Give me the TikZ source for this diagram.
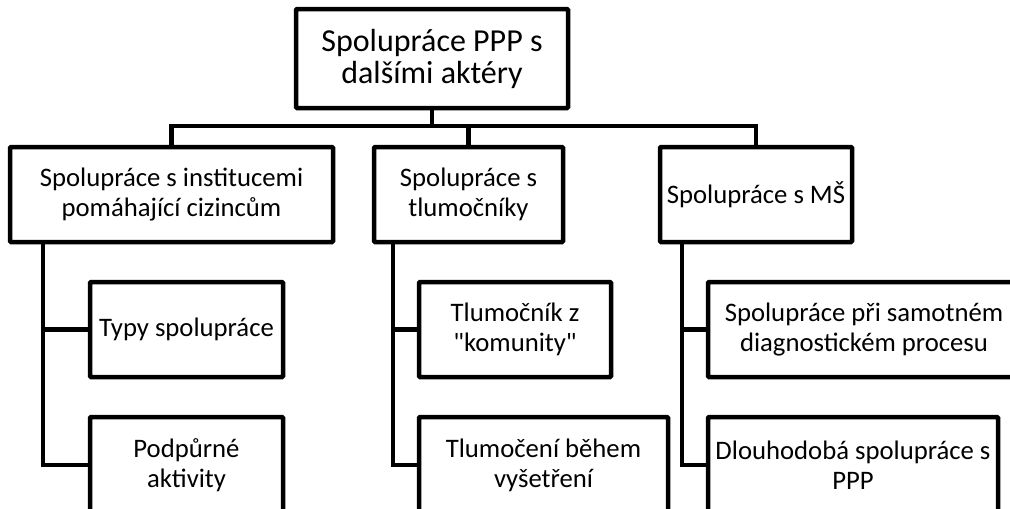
\documentclass[tikz,border=0pt]{standalone}
\usepackage{fontspec}
\setmainfont{Carlito}[Ligatures=TeXOff]
\begin{document}
\begin{tikzpicture}[x=1pt,y=-1pt,
  box/.style={draw=black,line width=4.5pt,fill=white,rounded corners=1pt,align=center,inner sep=0pt,anchor=center},
  lvl/.style={box,font=\fontsize{26.7}{30}\selectfont},
  conn/.style={draw=black,line width=4.5pt}]
\useasboundingbox (0,0) rectangle (1010,509);
\clip (0,0) rectangle (1010,509);
% root
\node[box,font=\fontsize{32}{32}\selectfont,minimum width=272pt,minimum height=99pt] (root) at (432,58.5) {Spolupráce PPP s\\dalšími aktéry};
% level 1
\node[lvl,minimum width=323pt,minimum height=95pt] (c1) at (171.5,194.5) {Spolupráce s institucemi\\pomáhající cizincům};
\node[lvl,minimum width=189pt,minimum height=95pt] (c2) at (468.5,194.5) {Spolupráce s\\tlumočníky};
\node[lvl,minimum width=192pt,minimum height=95pt] (c3) at (756,194.5) {Spolupráce s MŠ};
% level 2
\node[lvl,minimum width=193pt,minimum height=95pt] (g11) at (186.5,329.5) {Typy spolupráce};
\node[lvl,minimum width=193pt,minimum height=96pt] (g12) at (186.5,465) {Podpůrné\\aktivity};
\node[lvl,minimum width=192pt,minimum height=95pt] (g21) at (515,329.5) {Tlumočník z\\"komunity"};
\node[lvl,minimum width=249pt,minimum height=96pt] (g22) at (543.5,465) {Tlumočení během\\vyšetření};
\node[lvl,minimum width=312pt,minimum height=95pt] (g31) at (864,329.5) {Spolupráce při samotném\\diagnostickém procesu};
\node[lvl,minimum width=290pt,minimum height=96pt] (g32) at (853,465) {Dlouhodobá spolupráce s\\PPP};
% connectors
\coordinate (jn) at (432,126);
\draw[conn] (root.south) -- (jn);
\draw[conn] (c1.north) |- (jn) -| (c3.north);
\draw[conn] (c2.north) -- (c2.north |- jn);
\coordinate (s1) at (43,242);
\coordinate (s2) at (393,242);
\coordinate (s3) at (682,242);
\draw[conn] (g11.west) -| (s1);
\draw[conn] (s1) |- (g12.west);
\draw[conn] (g21.west) -| (s2);
\draw[conn] (s2) |- (g22.west);
\draw[conn] (g31.west) -| (s3);
\draw[conn] (s3) |- (g32.west);
\end{tikzpicture}
\end{document}
